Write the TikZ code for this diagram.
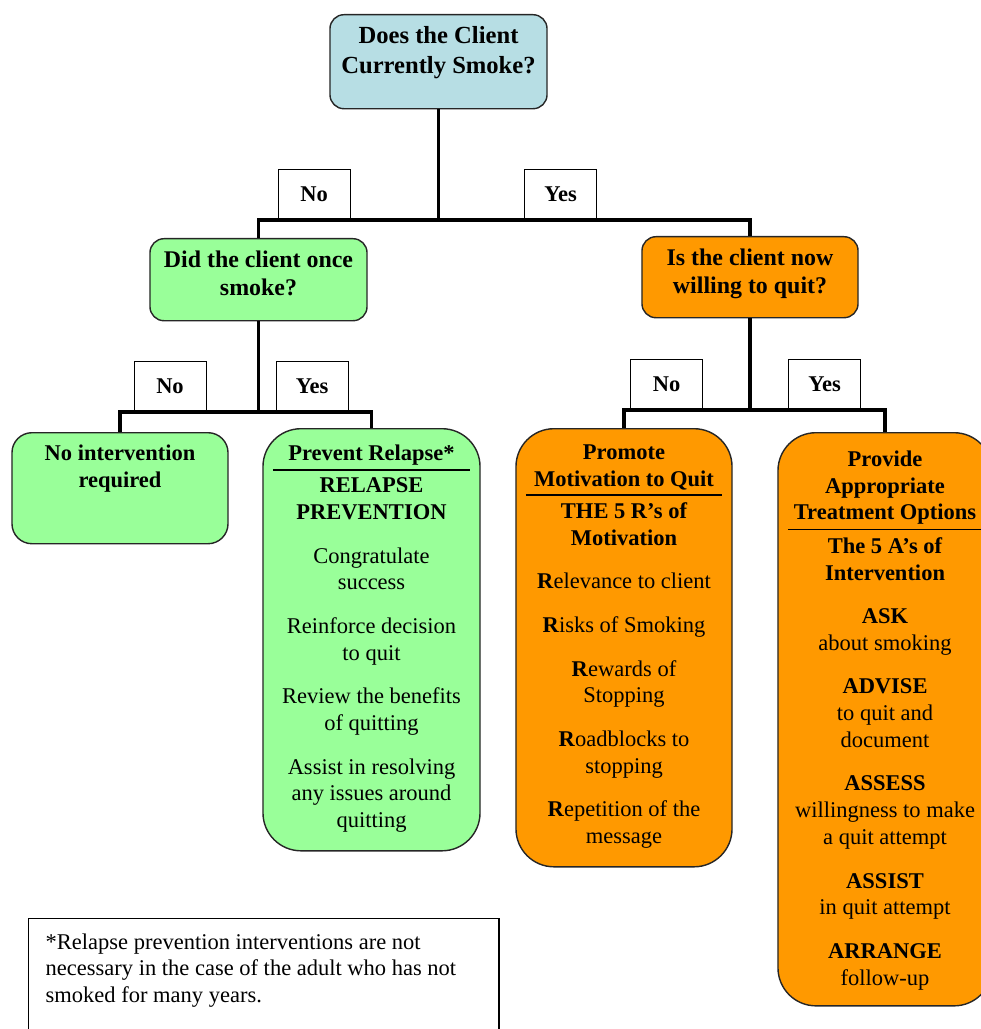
\documentclass[tikz,border=0pt]{standalone}
\usepackage{fontspec}
\setmainfont{Liberation Serif}
\usetikzlibrary{positioning}

\definecolor{askblue}{RGB}{183,222,228}
\definecolor{quitgreen}{RGB}{153,255,153}
\definecolor{quitorange}{RGB}{255,153,0}

% box text: height, width, top pad, lines
\newcommand{\boxtext}[4]{\parbox[t][#1][t]{#2}{\parskip=0pt\centering\vspace{#3}#4}}
\newcommand{\divline}{\par\vspace{3pt}\hrule height 1.2pt\vspace{5pt}}
\newcommand{\gap}{\\[12pt]}

\begin{document}
\begin{tikzpicture}[
      x=0.025cm, y=-0.025cm,
      decision/.style={draw=black!85, line width=1pt, rounded corners=0.35cm, anchor=north,
        inner xsep=0.25cm, inner ysep=0pt, font=\bfseries\fontsize{17}{20}\selectfont},
      action/.style={draw=black!85, line width=1pt, rounded corners=0.95cm, anchor=north,
        inner xsep=0.25cm, inner ysep=0pt, font=\fontsize{16}{19}\selectfont},
      answer/.style={draw, fill=white, line width=0.6pt, minimum width=1.8cm, minimum height=1.25cm,
        anchor=south, inner sep=0pt, font=\bfseries\fontsize{16}{19}\selectfont},
      footnote/.style={draw, line width=1pt, anchor=north west, inner xsep=0.425cm, inner ysep=0pt,
        font=\fontsize{16}{18.9}\selectfont},
      link/.style={line width=2.8pt}
    ]
    \useasboundingbox (0,0) rectangle (980,1029);

    % Top: the first question
    \node[decision, fill=askblue, font=\bfseries\fontsize{17.5}{21}\selectfont] (smoke) at (438.5,14)
      {\boxtext{2.35cm}{4.925cm}{0.3cm}{Does the Client\\Currently Smoke?}};

    % Second row: follow-up questions
    \node[decision, fill=quitgreen] (once) at (258.5,238)
      {\boxtext{2.05cm}{4.925cm}{0.3cm}{Did the client once\\smoke?}};
    \node[decision, fill=quitorange] (willing) at (750,236)
      {\boxtext{2.025cm}{4.9cm}{0.3cm}{Is the client now\\willing to quit?}};

    % Bottom row: interventions
    \node[action, fill=quitgreen, rounded corners=0.5cm] (nointv) at (120,432)
      {\boxtext{2.775cm}{4.9cm}{0.3cm}{\bfseries No intervention\\required}};

    \node[action, fill=quitgreen] (relapse) at (371.5,428)
      {\boxtext{10.55cm}{4.925cm}{0.4cm}{%
        {\bfseries Prevent Relapse*}\divline
        {\bfseries RELAPSE\\PREVENTION}\gap
        Congratulate\\success\gap
        Reinforce decision\\to quit\gap
        Review the benefits\\of quitting\gap
        Assist in resolving\\any issues around\\quitting}};

    \node[action, fill=quitorange] (motiv) at (624,428)
      {\boxtext{10.95cm}{4.9cm}{0.4cm}{%
        {\bfseries Promote\\Motivation to Quit}\divline
        {\bfseries THE 5 R's of\\Motivation}\gap
        \textbf{R}elevance to client\gap
        \textbf{R}isks of Smoking\gap
        \textbf{R}ewards of\\Stopping\gap
        \textbf{R}oadblocks to\\stopping\gap
        \textbf{R}epetition of the\\message}};

    \node[action, fill=quitorange] (treat) at (885,432)
      {\boxtext{14.325cm}{4.85cm}{0.45cm}{%
        {\bfseries Provide\\Appropriate\\Treatment Options}\divline
        {\bfseries The 5 A's of\\Intervention}\gap
        \textbf{ASK}\\about smoking\gap
        \textbf{ADVISE}\\to quit and\\document\gap
        \textbf{ASSESS}\\willingness to make\\a quit attempt\gap
        \textbf{ASSIST}\\in quit attempt\gap
        \textbf{ARRANGE}\\follow-up}};

    % Footnote
    \node[footnote] (note) at (28,918)
      {\boxtext{3.25cm}{10.9cm}{0.37cm}{\raggedright
        *Relapse prevention interventions are not\\
        necessary in the case of the adult who has not\\
        smoked for many years.}};

    % Answers
    \node[answer] (no1) at (314,220) {No};
    \node[answer] (yes1) at (560.5,220) {Yes};
    \node[answer] (no2) at (170,412) {No};
    \node[answer] (yes2) at (312,412) {Yes};
    \node[answer] (no3) at (666.5,410) {No};
    \node[answer] (yes3) at (824.5,410) {Yes};

    % Branches
    \coordinate (j1) at (438.5,220);
    \coordinate (j2) at (258.5,412);
    \coordinate (j3) at (750,410);

    \draw[link] (smoke.south) -- (j1);
    \draw[link] (j1) -| (once.north);
    \draw[link] (j1) -| (willing.north);
    \draw[link] (once.south) -- (j2);
    \draw[link] (j2) -| (nointv.north);
    \draw[link] (j2) -| (relapse.north);
    \draw[link] (willing.south) -- (j3);
    \draw[link] (j3) -| (motiv.north);
    \draw[link] (j3) -| (treat.north);

  \end{tikzpicture}
\end{document}
